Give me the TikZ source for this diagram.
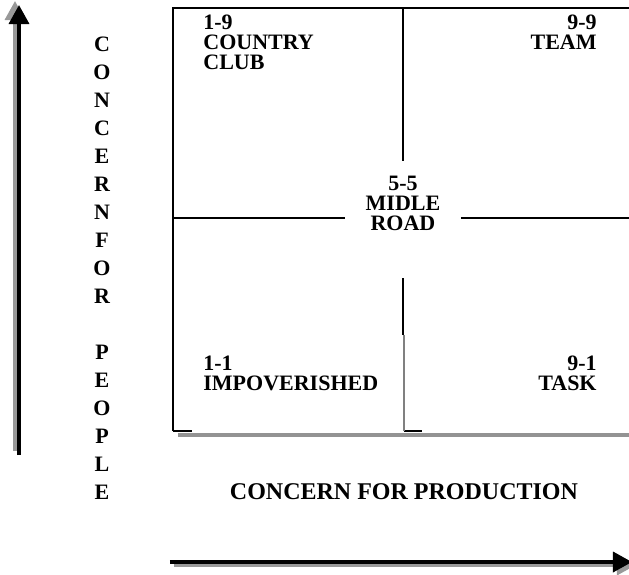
\documentclass[tikz,border=0pt]{standalone}
\usepackage{fontspec}
\setmainfont{Liberation Serif}
\usetikzlibrary{arrows.meta,positioning}
\tikzset{
    quadline/.style={line width=1pt},
    shadowline/.style={draw=gray!85, line width=2pt},
    cell/.style={
        font=\bfseries\fontsize{11}{10}\selectfont,
        inner sep=0pt
    },
    axis/.style={
        line width=1.75pt,
        -{Triangle[length=9.5pt,width=10pt]}
    },
    axisshadow/.style={axis, draw=gray!80, fill=gray!80}
}

\begin{document}
\begin{tikzpicture}[x=0.5pt,y=-0.5pt]
  \useasboundingbox (0,0) rectangle (629,575);

  % grid corners and middle
  \coordinate (TL) at (173,8);
  \coordinate (TR) at (629,8);
  \coordinate (BL) at (173,431);
  \coordinate (M) at (403,218);

  % box
  \draw[shadowline] (178,435) -- (629,435);
  \draw[quadline] (BL) -- (TL) -- (TR);
  \draw[quadline] (BL) -- ++(19,0);
  \draw[quadline] (404,431) -- ++(18,0);
  \draw[quadline] (M|-TL) -- ++(0,153);
  \draw[quadline] (403,278) -- (403,335);
  \draw[gray, line width=0.6pt] (404,335) -- (404,431);
  \draw[quadline] (M-|TL) -- (345,218);
  \draw[quadline] (461,218) -- (M-|TR);

  % quadrants
  \node[cell, align=left, anchor=north west] (Q19) at (203,15) {1-9\\COUNTRY\\CLUB};
  \node[cell, align=right, anchor=north east] (Q99) at (597,15) {9-9\\TEAM};
  \node[cell, align=center, anchor=north] (Q55) at (403,176) {5-5\\MIDLE\\ROAD};
  \node[cell, align=left, anchor=north west] (Q11) at (203,356) {1-1\\IMPOVERISHED};
  \node[cell, align=right, anchor=north east] (Q91) at (597,356) {9-1\\TASK};

  % axis titles
  \node[cell, font=\bfseries\fontsize{11}{14}\selectfont, align=center] (People) at (102,268)
    {C\\O\\N\\C\\E\\R\\N\\F\\O\\R\\[14pt]P\\E\\O\\P\\L\\E};
  \node[cell, font=\bfseries\fontsize{12}{14}\selectfont] (Prod) at (404,492) {CONCERN FOR PRODUCTION};

  % arrows
  \coordinate (V0) at (19,455);
  \coordinate (V1) at (19,5);
  \coordinate (H0) at (170,562);
  \coordinate (H1) at (632,562);
  \draw[axisshadow] ([shift={(-4,-4)}]V0) -- ([shift={(-4,-4)}]V1);
  \draw[axis] (V0) -- (V1);
  \draw[axisshadow] ([shift={(4,3)}]H0) -- ([shift={(4,3)}]H1);
  \draw[axis] (H0) -- (H1);

\end{tikzpicture}
\end{document}
